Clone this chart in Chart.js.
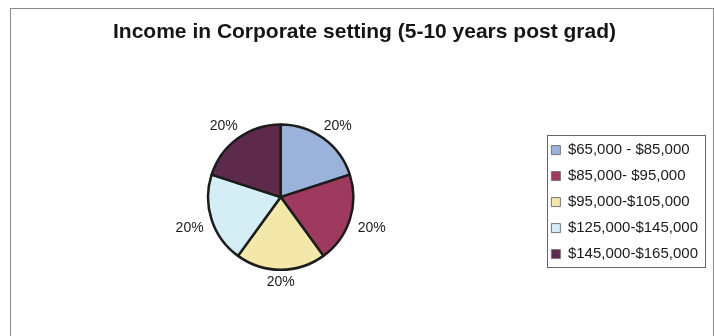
<!DOCTYPE html>
<html>
<head>
<meta charset="utf-8">
<script src="https://cdn.jsdelivr.net/npm/chart.js@4.4.1/dist/chart.umd.min.js"></script>
<style>
  html, body { margin: 0; padding: 0; background: #fff; }
  #frame {
    position: absolute; left: 10px; top: 8px; width: 704px; height: 330px;
    border: 1px solid #8a8a8a; box-sizing: border-box;
  }
  #incomePie { position: absolute; left: 0; top: 0; width: 714px; height: 336px; }
</style>
</head>
<body>
<div id="frame"></div>
<canvas id="incomePie" width="714" height="336"></canvas>
<script>
// income brackets and their share of respondents (percent)
const brackets = ['$65,000 - $85,000', '$85,000- $95,000', '$95,000-$105,000', '$125,000-$145,000', '$145,000-$165,000'];
const shares = [20, 20, 20, 20, 20];
const sliceColors = ['#9bb3db', '#9f3a5f', '#f3e7a9', '#d5edf4', '#5d2a4c'];

const FONT = "'Liberation Sans', Arial, sans-serif";

// percent labels sitting just outside each slice
const outsideLabels = {
  id: 'outsideLabels',
  afterDatasetsDraw(chart) {
    const { ctx } = chart;
    const meta = chart.getDatasetMeta(0);
    const data = chart.data.datasets[0].data;
    const total = data.reduce((a, b) => a + b, 0);
    ctx.save();
    ctx.font = `14px ${FONT}`;
    ctx.fillStyle = '#1a1a1a';
    ctx.textAlign = 'center';
    ctx.textBaseline = 'middle';
    meta.data.forEach((arc, i) => {
      const p = arc.getProps(['x', 'y', 'startAngle', 'endAngle', 'outerRadius'], true);
      const mid = (p.startAngle + p.endAngle) / 2;
      const dx = Math.cos(mid), dy = Math.sin(mid);
      const text = Math.round(data[i] / total * 100) + '%';
      const w = ctx.measureText(text).width, h = 13;
      const r = p.outerRadius + 7;
      const nudgeX = Math.abs(dx) > 0.1 ? Math.sign(dx) * 2 : 0;
      const nudgeY = Math.abs(dy) < 0.5 ? 4 : -1;
      const x = p.x + dx * r + dx * w / 2 + nudgeX;
      const y = p.y + dy * r + dy * h / 2 + nudgeY;
      ctx.fillText(text, x, y);
    });
    ctx.restore();
  }
};

// keep the legend column level with the pie instead of the whole canvas
const legendBeside = {
  id: 'legendBeside',
  afterLayout(chart) {
    const lg = chart.legend, area = chart.chartArea;
    if (!lg) return;
    const shift = (area.top + area.bottom) / 2 + 5 - (lg.top + lg.bottom) / 2;
    lg.top += shift;
    lg.bottom += shift;
  }
};

// thin frame around the legend items
const legendFrame = {
  id: 'legendFrame',
  afterDraw(chart) {
    const boxes = chart.legend && chart.legend.legendHitBoxes;
    if (!boxes || !boxes.length) return;
    const left = Math.min(...boxes.map(b => b.left)) - 4;
    const top = Math.min(...boxes.map(b => b.top)) - 8;
    const right = Math.max(...boxes.map(b => b.left + b.width)) + 7;
    const bottom = Math.max(...boxes.map(b => b.top + b.height)) + 5;
    const { ctx } = chart;
    ctx.save();
    ctx.strokeStyle = '#666';
    ctx.lineWidth = 1;
    ctx.strokeRect(Math.round(left) + 0.5, Math.round(top) + 0.5, Math.round(right - left), Math.round(bottom - top));
    ctx.restore();
  }
};

const baseLabels = Chart.overrides.pie.plugins.legend.labels.generateLabels;

new Chart(document.getElementById('incomePie'), {
  type: 'pie',
  data: {
    labels: brackets,
    datasets: [{
      data: shares,
      backgroundColor: sliceColors,
      borderColor: '#1c1c1c',
      borderWidth: 2.5
    }]
  },
  options: {
    responsive: false,
    animation: false,
    devicePixelRatio: 1,
    layout: { padding: { left: 21, right: 6, top: 10, bottom: 65 } },
    plugins: {
      title: {
        display: true,
        text: 'Income in Corporate setting (5-10 years post grad)',
        color: '#151515',
        font: { family: FONT, size: 21, weight: 'bold' },
        padding: { top: 10, bottom: 78 }
      },
      legend: {
        position: 'right',
        labels: {
          color: '#1a1a1a',
          font: { family: FONT, size: 15 },
          boxWidth: 9,
          boxHeight: 9,
          padding: 11,
          generateLabels(chart) {
            return baseLabels(chart).map(l => ({ ...l, lineWidth: 1, strokeStyle: '#777' }));
          }
        }
      },
      tooltip: { enabled: false }
    }
  },
  plugins: [outsideLabels, legendBeside, legendFrame]
});
</script>
</body>
</html>
